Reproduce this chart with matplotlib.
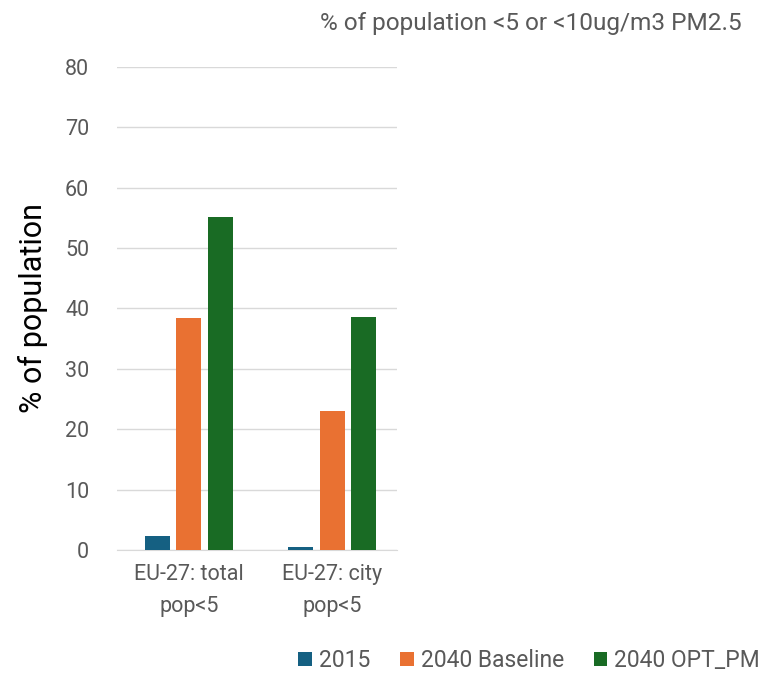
import numpy as np
import matplotlib.pyplot as plt

categories = ['EU-27: total\npop<5', 'EU-27: city\npop<5']
series = ['2015', '2040 Baseline', '2040 OPT_PM']
vals_2015 = [2.3, 0.5]
vals_base = [38.4, 23.1]
vals_opt = [55.1, 38.6]
y_ticks = [0, 10, 20, 30, 40, 50, 60, 70, 80]

colors = ['#156082', '#E97132', '#196B24']
txt = '#595959'
plt.rcParams['font.family'] = ['Roboto', 'DejaVu Sans']

fig = plt.figure(figsize=(7.73, 6.74), dpi=100)
ax = fig.add_axes([0.1514, 0.184, 0.362, 0.7166])

x = np.arange(len(categories))
w = 0.174
step = 0.22
for i, (name, v) in enumerate(zip(series, [vals_2015, vals_base, vals_opt])):
    ax.bar(x + (i - 1) * step, v, w, color=colors[i], label=name, zorder=3)

ax.set_ylim(0, 80)
ax.set_xlim(-0.5, 1.45)
ax.set_yticks(y_ticks)
ax.set_xticks(x)
ax.set_xticklabels(categories, fontsize=15.5, color=txt, linespacing=1.7)
ax.tick_params(axis='y', labelsize=15.5, colors=txt, length=0, pad=20)
ax.tick_params(axis='x', length=0, pad=10)
ax.grid(axis='y', color='#d9d9d9', linewidth=1, zorder=0)
for s in ['top', 'right', 'left']:
    ax.spines[s].set_visible(False)
ax.spines['bottom'].set_color('#d9d9d9')
ax.set_ylabel('% of population', fontsize=22, color='black', labelpad=12)

fig.text(0.96, 0.965, '% of population <5 or <10ug/m3 PM2.5', ha='right', va='center',
         fontsize=17.6, color=txt)
fig.legend(loc='center right', bbox_to_anchor=(1.01, 0.02), ncol=3, frameon=False,
           fontsize=16.5, labelcolor=txt, handlelength=0.6, handleheight=0.6,
           handletextpad=0.3, columnspacing=1.3)

plt.savefig('out.png', dpi=100)
